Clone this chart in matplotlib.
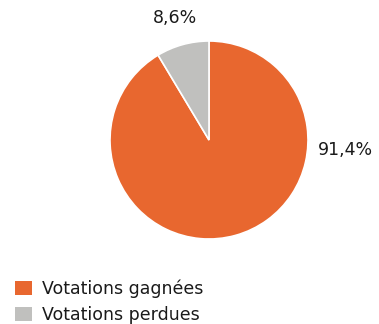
import matplotlib
matplotlib.use("Agg")
import matplotlib.pyplot as plt
from matplotlib.patches import Patch

categories = ["Votations gagnées", "Votations perdues"]
shares = [91.4, 8.6]
colors = ["#E8672F", "#C0C0BE"]

W, H = 379, 324
fig = plt.figure(figsize=(W / 100, H / 100), dpi=100)
plt.rcParams['font.family'] = ['DejaVu Sans']

# pie centred at (209, 140) px with radius ~99 px
cx, cy, r = 209, 140, 99
ax = fig.add_axes([(cx - r) / W, (H - cy - r) / H, 2 * r / W, 2 * r / H])
ax.pie(shares, colors=colors, startangle=90, counterclock=False,
       radius=1, wedgeprops=dict(edgecolor="white", linewidth=1.2))
ax.set_xlim(-1, 1)
ax.set_ylim(-1, 1)
ax.set_aspect("equal")
ax.axis("off")

def fmt(v):
    return f"{v:.1f}%".replace(".", ",")

label_pos = [(1.38, -0.10), (-0.34, 1.23)]
for v, (x, y) in zip(shares, label_pos):
    ax.text(x, y, fmt(v), ha="center", va="center", fontsize=12.5,
            color="#1a1a1a", clip_on=False)

handles = [Patch(facecolor=c, edgecolor="none") for c in colors]
fig.legend(handles, categories, loc="upper left",
           bbox_to_anchor=(8 / W, 1 - 272.5 / H), frameon=False,
           fontsize=12.5, handlelength=0.98, handleheight=0.88,
           handletextpad=0.57, labelspacing=0.45, borderaxespad=0,
           labelcolor="#1a1a1a")

fig.savefig("out.png", dpi=100)
